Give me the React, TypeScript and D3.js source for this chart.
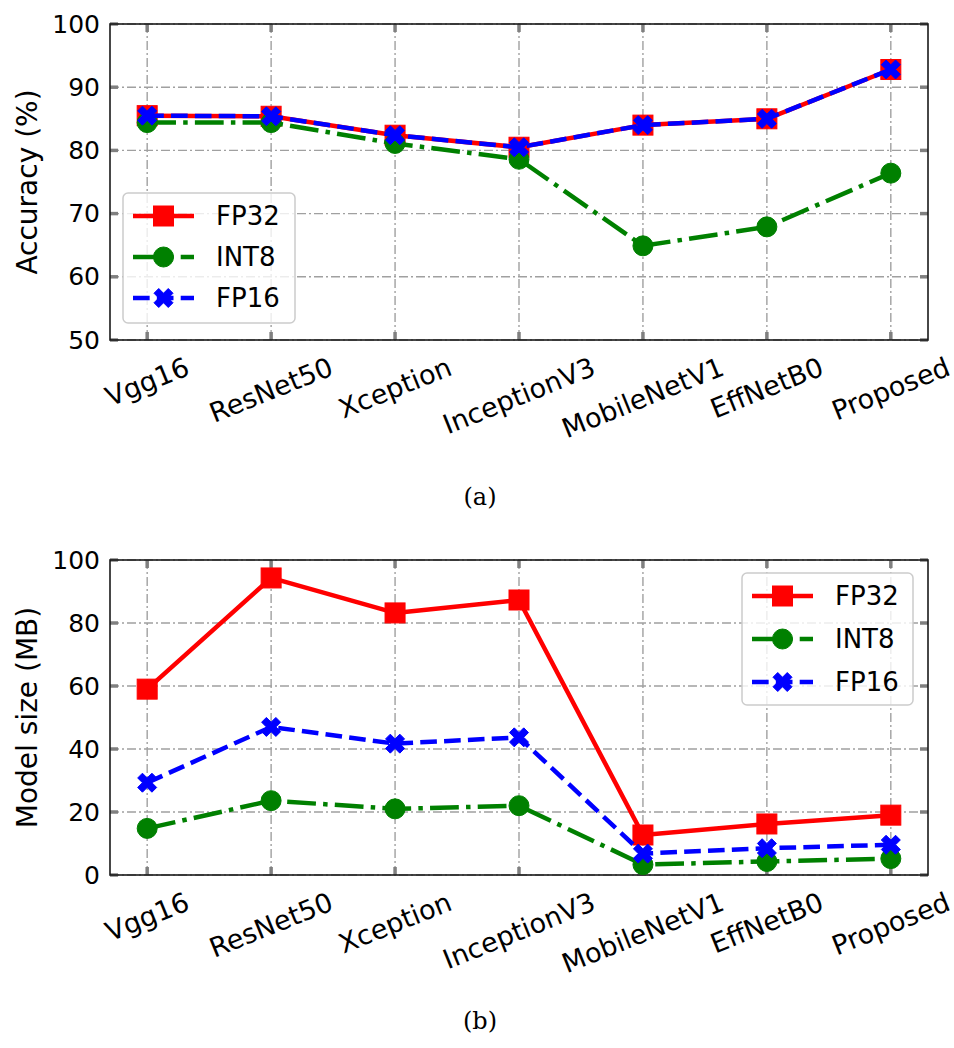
import React, { useEffect, useRef } from 'react';
import * as d3 from 'd3';

const categories = ['Vgg16', 'ResNet50', 'Xception', 'InceptionV3', 'MobileNetV1', 'EffNetB0', 'Proposed'];
const seriesNames = ['FP32', 'INT8', 'FP16'];
const accFP32 = [85.5, 85.4, 82.4, 80.5, 84.0, 85.0, 92.8];
const accINT8 = [84.4, 84.4, 81.1, 78.6, 64.9, 67.9, 76.4];
const accFP16 = [85.5, 85.4, 82.4, 80.5, 84.0, 85.0, 92.8];
const sizeFP32 = [59.0, 94.3, 83.2, 87.3, 12.7, 16.2, 19.0];
const sizeINT8 = [14.8, 23.6, 21.0, 22.0, 3.3, 4.3, 5.2];
const sizeFP16 = [29.3, 47.0, 41.7, 43.7, 6.8, 8.5, 9.6];
const accTicks = [50, 60, 70, 80, 90, 100];
const sizeTicks = [0, 20, 40, 60, 80, 100];

const FONT = 'DejaVu Sans, sans-serif';
const LW = 4.5;
const styles = [
  { color: '#ff0000', dash: null as string | null, marker: 'square' },
  { color: '#008000', dash: `${6.4 * LW},${1.6 * LW},${1 * LW},${1.6 * LW}`, marker: 'circle' },
  { color: '#0000ff', dash: `${3.7 * LW},${1.6 * LW}`, marker: 'x' },
];

function drawMarker(g: any, kind: string, x: number, y: number, color: string, s = 20) {
  if (kind === 'square') {
    g.append('rect').attr('x', x - s / 2).attr('y', y - s / 2).attr('width', s).attr('height', s)
      .attr('fill', color).attr('stroke', color).attr('stroke-width', 1);
  } else if (kind === 'circle') {
    g.append('circle').attr('cx', x).attr('cy', y).attr('r', s / 2).attr('fill', color)
      .attr('stroke', color).attr('stroke-width', 1);
  } else {
    const pts = [[-1, -2], [0, -1], [1, -2], [2, -1], [1, 0], [2, 1], [1, 2], [0, 1], [-1, 2], [-2, 1], [-1, 0], [-2, -1]];
    const ss = 19;
    const d = 'M' + pts.map(p => `${x + (p[0] / 4) * ss},${y + (p[1] / 4) * ss}`).join('L') + 'Z';
    g.append('path').attr('d', d).attr('fill', color).attr('stroke', color).attr('stroke-width', 1);
  }
}

function drawPanel(svg: any, cfg: any) {
  const { left, right, top, bottom, yDomain, yTicks, series, ylabel, legend, caption, captionY } = cfg;
  const x = d3.scaleLinear().domain([-0.3, categories.length - 1 + 0.3]).range([left, right]);
  const y = d3.scaleLinear().domain(yDomain).range([bottom, top]);
  const g = svg.append('g');

  // grid
  const gridDash = '9,3,2,3';
  categories.forEach((_, i) => {
    g.append('line').attr('x1', x(i)).attr('x2', x(i)).attr('y1', top).attr('y2', bottom)
      .attr('stroke', '#a0a0a0').attr('stroke-width', 1.4).attr('stroke-dasharray', gridDash);
  });
  yTicks.forEach((t: number) => {
    g.append('line').attr('x1', left).attr('x2', right).attr('y1', y(t)).attr('y2', y(t))
      .attr('stroke', '#a0a0a0').attr('stroke-width', 1.4).attr('stroke-dasharray', gridDash);
  });

  // ticks (inward, all sides)
  const tc = '#808080', tl = 8, tw = 3.5;
  categories.forEach((_, i) => {
    g.append('line').attr('x1', x(i)).attr('x2', x(i)).attr('y1', bottom).attr('y2', bottom - tl).attr('stroke', tc).attr('stroke-width', tw);
    g.append('line').attr('x1', x(i)).attr('x2', x(i)).attr('y1', top).attr('y2', top + tl).attr('stroke', tc).attr('stroke-width', tw);
  });
  yTicks.forEach((t: number) => {
    g.append('line').attr('x1', left).attr('x2', left + tl).attr('y1', y(t)).attr('y2', y(t)).attr('stroke', tc).attr('stroke-width', tw);
    g.append('line').attr('x1', right).attr('x2', right - tl).attr('y1', y(t)).attr('y2', y(t)).attr('stroke', tc).attr('stroke-width', tw);
    g.append('text').attr('x', left - 10).attr('y', y(t)).attr('text-anchor', 'end').attr('dominant-baseline', 'central')
      .attr('font-family', FONT).attr('font-size', 25).attr('fill', '#000').text(String(t));
  });

  // spines
  g.append('rect').attr('x', left).attr('y', top).attr('width', right - left).attr('height', bottom - top)
    .attr('fill', 'none').attr('stroke', '#1a1a1a').attr('stroke-width', 1.6);

  // series
  series.forEach((vals: number[], si: number) => {
    const st = styles[si];
    const line = d3.line<number>().x((_, i) => x(i)).y(v => y(v));
    const p = g.append('path').attr('d', line(vals)).attr('fill', 'none').attr('stroke', st.color)
      .attr('stroke-width', LW).attr('stroke-linejoin', 'round');
    if (st.dash) p.attr('stroke-dasharray', st.dash);
    vals.forEach((v, i) => drawMarker(g, st.marker, x(i), y(v), st.color));
  });

  // x labels rotated (matplotlib-like: rotated layout box centred under tick, top at pad)
  const deg = 22;
  const theta = deg * Math.PI / 180;
  const fs = 27;
  const asc = 0.928 * fs, desc = 0.236 * fs;
  categories.forEach((c, i) => {
    const t = g.append('text').attr('font-family', FONT).attr('font-size', fs).attr('fill', '#000')
      .attr('text-anchor', 'middle').text(c);
    const w = (t.node() as SVGTextElement).getComputedTextLength();
    const h = asc + desc;
    const H = w * Math.sin(theta) + h * Math.cos(theta);
    const cy = bottom + 11 + H / 2;
    const by = cy + (asc - desc) / 2;
    t.attr('x', x(i)).attr('y', by).attr('transform', `rotate(${-deg},${x(i)},${cy})`);
  });

  // y label
  const cyl = (top + bottom) / 2;
  g.append('text').attr('x', 37).attr('y', cyl).attr('transform', `rotate(-90,37,${cyl})`)
    .attr('text-anchor', 'middle').attr('font-family', FONT).attr('font-size', 28).attr('fill', '#000').text(ylabel);

  // legend
  const lg = g.append('g');
  lg.append('rect').attr('x', legend.x).attr('y', legend.y).attr('width', legend.w).attr('height', legend.h)
    .attr('rx', 5).attr('fill', 'white').attr('fill-opacity', 0.8).attr('stroke', '#cccccc').attr('stroke-width', 1.5);
  seriesNames.forEach((n, si) => {
    const st = styles[si];
    const ry = legend.y + 23 + si * legend.step;
    const l = lg.append('line').attr('x1', legend.x + 10).attr('x2', legend.x + 71).attr('y1', ry).attr('y2', ry)
      .attr('stroke', st.color).attr('stroke-width', LW);
    if (st.dash) l.attr('stroke-dasharray', st.dash);
    drawMarker(lg, st.marker, legend.x + 40.5, ry, st.color);
    lg.append('text').attr('x', legend.x + 93).attr('y', ry).attr('dominant-baseline', 'central')
      .attr('font-family', FONT).attr('font-size', 26).attr('fill', '#000').text(n);
  });

  // caption
  g.append('text').attr('x', 480).attr('y', captionY).attr('text-anchor', 'middle')
    .attr('font-family', 'DejaVu Serif, Liberation Serif, serif').attr('font-size', 24).attr('fill', '#000').text(caption);
}

export default function App() {
  const ref = useRef<SVGSVGElement>(null);
  useEffect(() => {
    const svg = d3.select(ref.current);
    svg.selectAll('*').remove();
    svg.append('rect').attr('width', 954).attr('height', 1048).attr('fill', 'white');
    drawPanel(svg, {
      left: 110, right: 928, top: 24, bottom: 340, yDomain: [50, 100], yTicks: accTicks,
      series: [accFP32, accINT8, accFP16], ylabel: 'Accuracy (%)',
      legend: { x: 123, y: 193, w: 172, h: 130, step: 41 }, caption: '(a)', captionY: 505,
    });
    drawPanel(svg, {
      left: 110, right: 928, top: 560, bottom: 875, yDomain: [0, 100], yTicks: sizeTicks,
      series: [sizeFP32, sizeINT8, sizeFP16], ylabel: 'Model size (MB)',
      legend: { x: 742, y: 573, w: 171, h: 132, step: 43 }, caption: '(b)', captionY: 1029,
    });
  }, []);
  return (
    <svg ref={ref} width={954} height={1048} style={{ position: 'absolute', left: 0, top: 0 }} />
  );
}
